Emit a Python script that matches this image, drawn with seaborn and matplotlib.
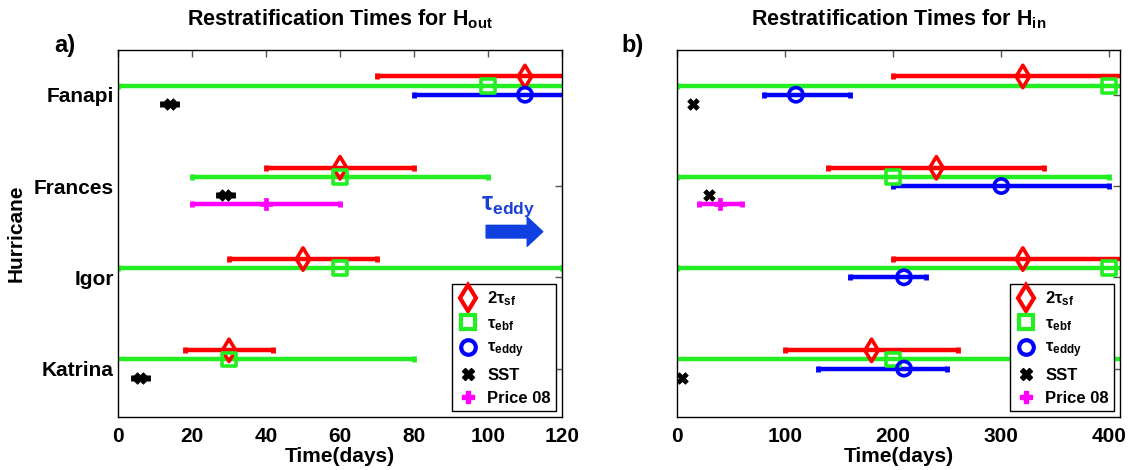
import numpy as np
import pandas as pd
import matplotlib
matplotlib.use("Agg")
import matplotlib.pyplot as plt
from matplotlib.lines import Line2D
import seaborn as sns

# ---------------- data ----------------
hurricanes = ["Fanapi", "Frances", "Igor", "Katrina"]
nan = np.nan

# panel a) H_out
sf_out = [110, 60, 50, 30]
sf_out_lo = [70, 40, 30, 18]
sf_out_hi = [150, 80, 70, 42]
ebf_out = [100, 60, 60, 30]
ebf_out_lo = [0, 20, 0, -20]
ebf_out_hi = [200, 100, 120, 80]
eddy_out = [110, nan, nan, nan]
eddy_out_lo = [80, nan, nan, nan]
eddy_out_hi = [140, nan, nan, nan]
sst_out = [14, 29, nan, 6]
sst_out_lo = [12, 27, nan, 4]
sst_out_hi = [16, 31, nan, 8]
price_out = [nan, 40, nan, nan]
price_out_lo = [nan, 20, nan, nan]
price_out_hi = [nan, 60, nan, nan]

# panel b) H_in
sf_in = [320, 240, 320, 180]
sf_in_lo = [200, 140, 200, 100]
sf_in_hi = [440, 340, 440, 260]
ebf_in = [400, 200, 400, 200]
ebf_in_lo = [0, 0, 0, -20]
ebf_in_hi = [800, 400, 800, 420]
eddy_in = [110, 300, 210, 210]
eddy_in_lo = [80, 200, 160, 130]
eddy_in_hi = [160, 400, 230, 250]
sst_in = [15, 30, nan, 5]
sst_in_lo = [15, 30, nan, 5]
sst_in_hi = [15, 30, nan, 5]
price_in = [nan, 40, nan, nan]
price_in_lo = [nan, 20, nan, nan]
price_in_hi = [nan, 60, nan, nan]

xticks_out = [0, 20, 40, 60, 80, 100, 120]
xticks_in = [0, 100, 200, 300, 400]

# ---------------- style ----------------
sns.set_theme(style="white")
plt.rcParams["font.family"] = ["Liberation Sans", "DejaVu Sans"]
plt.rcParams["font.weight"] = "bold"
plt.rcParams["text.color"] = "black"
plt.rcParams["axes.labelcolor"] = "black"
plt.rcParams["axes.titlecolor"] = "black"
plt.rcParams["xtick.labelcolor"] = "black"
plt.rcParams["ytick.labelcolor"] = "black"
plt.rcParams["mathtext.fontset"] = "custom"
plt.rcParams["mathtext.bf"] = "Liberation Sans:bold"
plt.rcParams["mathtext.rm"] = "Liberation Sans:bold"
plt.rcParams["mathtext.it"] = "Liberation Sans:bold"
plt.rcParams["mathtext.default"] = "bf"

RED, GREEN, BLUE, BLACK, MAG = "#FF0000", "#22EE22", "#0000FF", "#000000", "#FF00FF"

ypos = {h: 4 - i for i, h in enumerate(hurricanes)}

series_spec = [
    # key, label, color, marker, offset, filled, scatter size
    ("sf", r"2$\tau_{sf}$", RED, "d", 0.2, False, 130),
    ("ebf", r"$\tau_{ebf}$", GREEN, "s", 0.1, False, 100),
    ("eddy", r"$\tau_{eddy}$", BLUE, "o", 0.0, False, 105),
    ("sst", "SST", BLACK, "X", -0.1, True, 70),
    ("price", "Price 08", MAG, "P", -0.2, True, 85),
]


def build_df(vals):
    rows = []
    for key, label, color, marker, off, filled, ms in series_spec:
        v, lo, hi = vals[key]
        for h, a, b, c in zip(hurricanes, v, lo, hi):
            if np.isnan(a):
                continue
            rows.append(dict(series=key, hurricane=h, value=a, lo=b, hi=c,
                             y=ypos[h] + off))
    return pd.DataFrame(rows)


df_out = build_df({
    "sf": (sf_out, sf_out_lo, sf_out_hi),
    "ebf": (ebf_out, ebf_out_lo, ebf_out_hi),
    "eddy": (eddy_out, eddy_out_lo, eddy_out_hi),
    "sst": (sst_out, sst_out_lo, sst_out_hi),
    "price": (price_out, price_out_lo, price_out_hi),
})
df_in = build_df({
    "sf": (sf_in, sf_in_lo, sf_in_hi),
    "ebf": (ebf_in, ebf_in_lo, ebf_in_hi),
    "eddy": (eddy_in, eddy_in_lo, eddy_in_hi),
    "sst": (sst_in, sst_in_lo, sst_in_hi),
    "price": (price_in, price_in_lo, price_in_hi),
})

fig = plt.figure(figsize=(11.36, 4.70), dpi=100)
ax1 = fig.add_axes([0.1039, 0.1128, 0.3908, 0.7808])
ax2 = fig.add_axes([0.5960, 0.1128, 0.3900, 0.7808])


def draw(ax, df, xlim, xticks, show_ylabels):
    for key, label, color, marker, off, filled, ms in series_spec:
        d = df[df.series == key]
        if d.empty:
            continue
        err = np.vstack([d.value - d.lo, d.hi - d.value])
        if np.any(err > 0):
            ax.errorbar(d.value, d.y, xerr=err, fmt="none", ecolor=color,
                        elinewidth=3.2, capsize=2.5, capthick=3.5, zorder=2)
        if filled:
            sns.scatterplot(data=d, x="value", y="y", ax=ax, marker=marker,
                            color=color, s=ms, edgecolor=color, linewidth=0.5,
                            zorder=4, legend=False)
        else:
            sns.scatterplot(data=d, x="value", y="y", ax=ax, marker=marker,
                            facecolors="none", edgecolor=color, s=ms,
                            linewidth=2.6, zorder=4, legend=False)
    ax.set_xlim(*xlim)
    ax.set_ylim(0.47, 4.49)
    ax.set_xticks(xticks)
    ax.set_xticklabels([str(t) for t in xticks], fontsize=15, fontweight="bold")
    ax.set_yticks([ypos[h] for h in hurricanes])
    if show_ylabels:
        ax.set_yticklabels(hurricanes, fontsize=15, fontweight="bold")
        ax.set_ylabel("Hurricane", fontsize=15, fontweight="bold", labelpad=6)
    else:
        ax.set_yticklabels([])
        ax.set_ylabel("")
    ax.set_xlabel("Time(days)", fontsize=15, fontweight="bold", labelpad=1)
    ax.tick_params(direction="in", top=True, right=True, length=5, width=1,
                   color="#555555", pad=3)
    ax.tick_params(axis="x", pad=7)
    for s in ax.spines.values():
        s.set_color("black")
        s.set_linewidth(1.0)

    handles = []
    for key, label, color, marker, off, filled, ms in series_spec:
        if filled:
            h = Line2D([], [], linestyle="none", marker=marker, markersize=9,
                       color=color, markeredgecolor=color, label=label)
        else:
            size = {"d": 13, "s": 10, "o": 10.5}[marker]
            h = Line2D([], [], linestyle="none", marker=marker,
                       markersize=size, markerfacecolor="none",
                       markeredgecolor=color, markeredgewidth=3.0, label=label)
        handles.append(h)
    leg = ax.legend(handles=handles, loc="lower right",
                    frameon=True, fancybox=False, edgecolor="black",
                    framealpha=1, borderaxespad=0.35, handletextpad=0.5,
                    labelspacing=0.47, borderpad=0.32, handlelength=1.3,
                    prop={"weight": "bold", "size": 12})
    leg.get_frame().set_linewidth(1.0)
    for t in leg.get_texts():
        t.set_color("black")


draw(ax1, df_out, (0, 120), xticks_out, True)
draw(ax2, df_in, (0, 410), xticks_in, False)

ax1.set_title(r"Restratification Times for H$_{out}$", fontsize=15.5,
              fontweight="bold", pad=18, color="black")
ax2.set_title(r"Restratification Times for H$_{in}$", fontsize=15.5,
              fontweight="bold", pad=18, color="black")

# tau_eddy arrow annotation
ax1.annotate("", xy=(114.8, 2.5), xytext=(99.5, 2.5),
             arrowprops=dict(arrowstyle="simple,head_width=1.5,head_length=0.8,tail_width=0.65",
                             color="#1040E0", mutation_scale=14, shrinkA=0, shrinkB=0))
ax1.text(105.5, 2.77, r"$\tau_{eddy}$", color="#1A40D8", fontsize=18,
         fontweight="bold", ha="center", va="center")

fig.text(0.057, 0.904, "a)", fontsize=17, fontweight="bold", ha="center",
         va="center", color="black")
fig.text(0.557, 0.904, "b)", fontsize=17, fontweight="bold", ha="center",
         va="center", color="black")

fig.savefig("out.png", dpi=100)
